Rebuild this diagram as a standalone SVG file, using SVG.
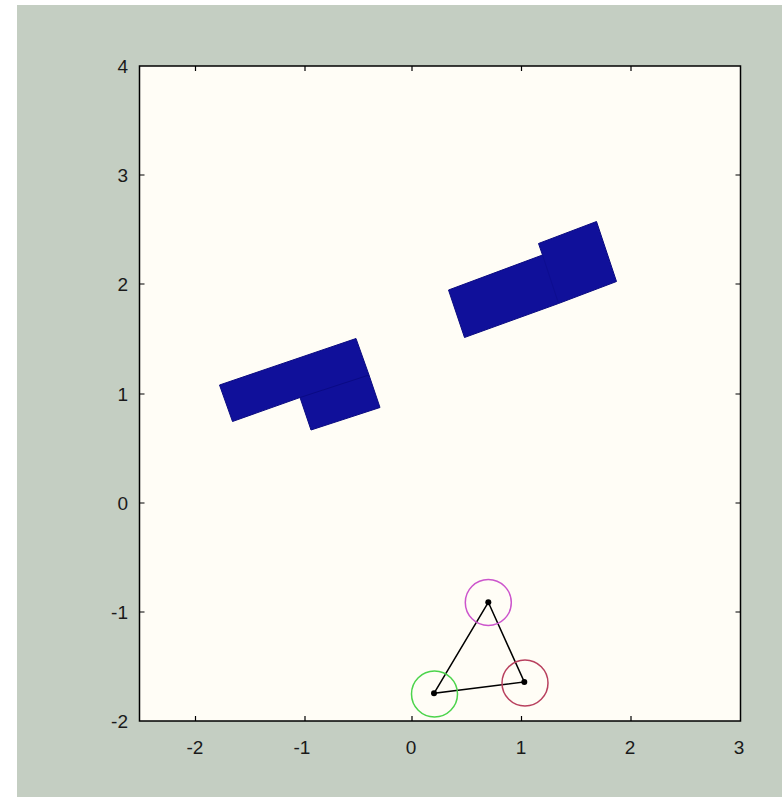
<svg xmlns="http://www.w3.org/2000/svg" width="782" height="799" viewBox="0 0 782 799">
<style>
.lbl{font-family:"Liberation Sans",Arial,sans-serif;font-size:19px;fill:#1a1a1a}
.xl{text-anchor:middle}
.yl{text-anchor:end}
.tick{stroke:#000;stroke-width:1.2}
.blue{fill:#10109A;stroke:#0B0B80;stroke-width:1;stroke-linejoin:round}
.seam{stroke:#0A0A85;stroke-width:1;fill:none}
.link{stroke:#000;stroke-width:1.5;fill:none}
.joint{fill:#000}
</style>
<rect x="0" y="0" width="782" height="799" fill="#ffffff"/>
<rect x="17" y="5" width="765" height="792" fill="#C4CEC2"/>
<g id="axes">
<rect x="139.5" y="66" width="601" height="655" fill="#FFFDF6" stroke="#000" stroke-width="1.5"/>
<g id="ticks">
<path class="tick" d="M195.5 721v-5M305 721v-5M412 721v-5M521.5 721v-5M631 721v-5M195.5 66v5M305 66v5M412 66v5M521.5 66v5M631 66v5M139.5 175h5M139.5 284h5M139.5 394h5M139.5 503h5M139.5 612h5M740.5 175h-5M740.5 284h-5M740.5 394h-5M740.5 503h-5M740.5 612h-5"/>
</g>
<g id="xlabels">
<text class="lbl xl" x="195" y="754">-2</text>
<text class="lbl xl" x="302" y="754">-1</text>
<text class="lbl xl" x="411" y="754">0</text>
<text class="lbl xl" x="521" y="754">1</text>
<text class="lbl xl" x="630" y="754">2</text>
<text class="lbl xl" x="739" y="754">3</text>
</g>
<g id="ylabels">
<text class="lbl yl" x="128" y="73">4</text>
<text class="lbl yl" x="128" y="182">3</text>
<text class="lbl yl" x="128" y="291">2</text>
<text class="lbl yl" x="128" y="401">1</text>
<text class="lbl yl" x="128" y="510">0</text>
<text class="lbl yl" x="128" y="619">-1</text>
<text class="lbl yl" x="128" y="728">-2</text>
</g>
</g>
<g id="obstacle-left">
<polygon class="blue" points="219.5,385 356,338.5 369,375 380,407.5 311,430 300,397.5 232.5,421.5"/>
<path class="seam" d="M300 397.5L369 375"/>
</g>
<g id="obstacle-right">
<polygon class="blue" points="448.5,290 542.5,255 538.5,243.5 596.5,221.5 616.5,281.5 558.5,303.5 464.5,337.5"/>
<path class="seam" d="M542.5 255L558.5 303.5" stroke-opacity="0.5"/>
</g>
<g id="connectors">
<path class="link" d="M488.3 602.3L524.3 682L434 693.3Z"/>
</g>
<g id="joint-top">
<circle cx="488.3" cy="602.5" r="23" fill="none" stroke="#CC55CC" stroke-width="1.5"/>
<circle class="joint" cx="488.3" cy="602.3" r="3"/>
</g>
<g id="joint-right">
<circle cx="525" cy="683" r="23" fill="none" stroke="#B8405E" stroke-width="1.5"/>
<circle class="joint" cx="524.3" cy="682" r="3"/>
</g>
<g id="joint-left">
<circle cx="434.5" cy="694" r="23" fill="none" stroke="#4CD44C" stroke-width="1.5"/>
<circle class="joint" cx="434" cy="693.3" r="3"/>
</g>
</svg>
